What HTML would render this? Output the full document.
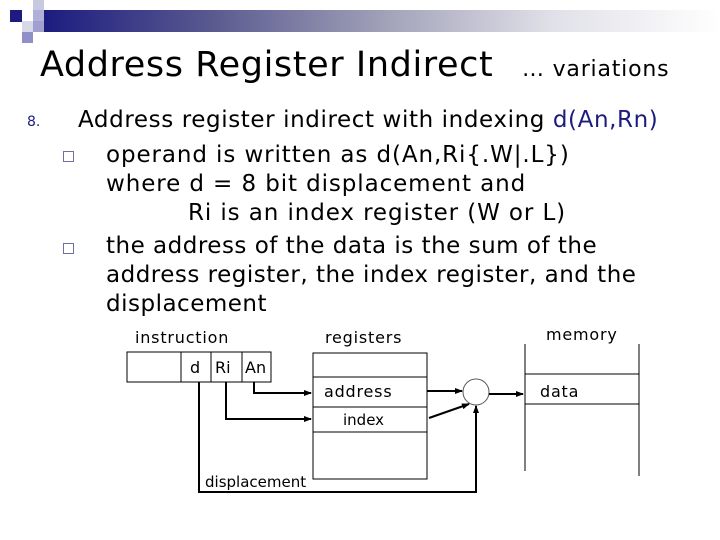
<!DOCTYPE html>
<html><head><style>
body{margin:0;width:720px;height:540px;background:#fff;position:relative;overflow:hidden;font-family:"DejaVu Sans",sans-serif;}
.a{position:absolute;white-space:nowrap;}
.b{position:absolute;width:9px;height:9px;border:1.5px solid #7070a8;}
.t{font-size:23px;line-height:29px;letter-spacing:0.9px;}
.s{letter-spacing:0.8px;}
</style></head><body>
<div class="a" style="left:44px;top:10px;width:676px;height:22px;background:linear-gradient(to right,#1c1c80,#5a5a90 25%,#a0a0b8 50%,#e0e0e8 75%,#fff)"></div>
<div class="a" style="left:10px;top:10px;width:12px;height:12px;background:#1c1c80"></div>
<div class="a" style="left:33px;top:0px;width:11px;height:10px;background:#c8c8e0"></div>
<div class="a" style="left:33px;top:10px;width:11px;height:11px;background:#b0b0d8"></div>
<div class="a" style="left:22px;top:21px;width:11px;height:11px;background:#d8d8ea"></div>
<div class="a" style="left:33px;top:21px;width:11px;height:11px;background:#a0a0d0"></div>
<div class="a" style="left:22px;top:32px;width:11px;height:11px;background:#9090c8"></div>
<div class="a" style="left:40px;top:45px;font-size:35px;letter-spacing:0.6px;">Address Register Indirect</div>
<div class="a" style="left:522px;top:57px;font-size:22px;letter-spacing:0.8px;">… variations</div>
<div class="a" style="left:27px;top:114px;font-size:14px;color:#1c1c80;">8.</div>
<div class="a t" style="left:78px;top:106px;letter-spacing:0.6px;">Address register indirect with indexing <span style="color:#1c1c80">d(An,Rn)</span></div>
<div class="b" style="left:63px;top:151px;"></div>
<div class="a t" style="left:106px;top:141px;">operand is written as d(An,Ri{.W|.L})<br>where d = 8 bit displacement and<br><span style="margin-left:82px">Ri is an index register (W or L)</span></div>
<div class="b" style="left:63px;top:243px;"></div>
<div class="a t" style="left:106px;top:232px;letter-spacing:0.5px;">the address of the data is the sum of the<br>address register, the index register, and the<br>displacement</div>
<svg class="a" style="left:0;top:0" width="720" height="540">
<defs><marker id="ar" markerWidth="8" markerHeight="8" refX="7" refY="4" orient="auto" markerUnits="userSpaceOnUse"><path d="M0,1 L8,4 L0,7z" fill="#000"/></marker></defs>
<g fill="none" stroke="#000" stroke-width="1">
<rect x="127" y="352" width="144" height="30"/>
<line x1="181" y1="352" x2="181" y2="382"/><line x1="211" y1="352" x2="211" y2="382"/><line x1="242" y1="352" x2="242" y2="382"/>
<rect x="313" y="353" width="114" height="126"/>
<line x1="313" y1="377" x2="427" y2="377"/><line x1="313" y1="407" x2="427" y2="407"/><line x1="313" y1="432" x2="427" y2="432"/>
<circle cx="476" cy="392" r="13" stroke="#555"/>
<line x1="525" y1="344" x2="525" y2="471"/><line x1="639" y1="344" x2="639" y2="476"/>
<line x1="525" y1="374" x2="639" y2="374"/><line x1="525" y1="404" x2="639" y2="404"/>
</g>
<g fill="none" stroke="#000" stroke-width="2">
<path d="M254,382 V393 H311" marker-end="url(#ar)"/>
<path d="M226,382 V419 H311" marker-end="url(#ar)"/>
<path d="M199,382 V492 H476 V406" marker-end="url(#ar)"/>
<path d="M427,391 H462" marker-end="url(#ar)"/>
<path d="M429,418 L469,404" marker-end="url(#ar)"/>
<path d="M489,394 H523" marker-end="url(#ar)"/>
</g>
</svg>
<div class="a s" style="left:135px;top:328px;font-size:16px;">instruction</div>
<div class="a s" style="left:325px;top:328px;font-size:16px;">registers</div>
<div class="a s" style="left:546px;top:325px;font-size:16px;">memory</div>
<div class="a" style="left:190px;top:358px;font-size:16px;">d</div>
<div class="a" style="left:215px;top:358px;font-size:16px;">Ri</div>
<div class="a" style="left:245px;top:358px;font-size:16px;">An</div>
<div class="a s" style="left:324px;top:382px;font-size:16px;">address</div>
<div class="a" style="left:343px;top:411px;font-size:15px;">index</div>
<div class="a s" style="left:540px;top:382px;font-size:16px;">data</div>
<div class="a" style="left:205px;top:473px;font-size:15px;">displacement</div>
</body></html>
